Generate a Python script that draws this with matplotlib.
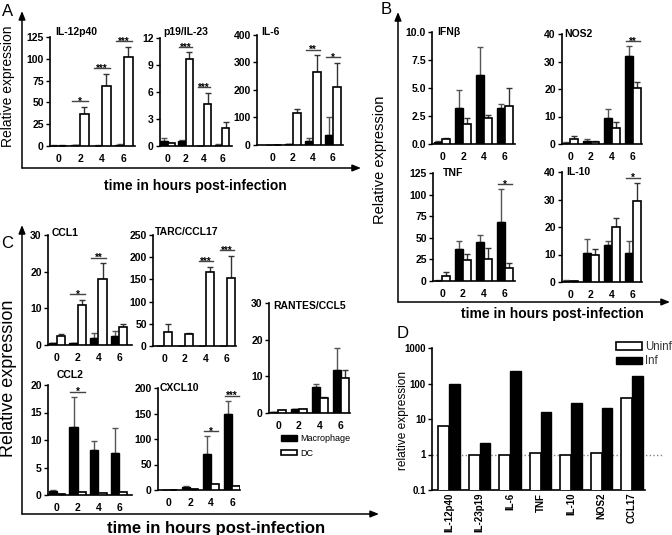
import matplotlib.pyplot as plt
import numpy as np
from matplotlib.patches import Patch

plt.rcParams['font.family'] = ['Liberation Sans', 'DejaVu Sans']

hours = ['0', '2', '4', '6']

# A: IL-12p40, p19/IL-23, IL-6  (macrophage = black, DC = white; upper error only)
il12_mac = [0.5, 1.0, 0.5, 1.5]
il12_mac_err = [0.3, 0.5, 0.3, 0.8]
il12_dc = [0.5, 37, 69, 102]
il12_dc_err = [0.3, 8, 14, 12]
il12_sig = ['', '*', '***', '***']

p19_mac = [0.6, 0.5, 0.05, 0.15]
p19_mac_err = [0.3, 0.15, 0.0, 0.05]
p19_dc = [0.3, 9.7, 4.7, 2.0]
p19_dc_err = [0.05, 0.7, 1.2, 0.7]
p19_sig = ['', '***', '***', '']

il6_mac = [0.5, 2, 16, 38]
il6_mac_err = [0, 0, 11, 62]
il6_dc = [0.5, 117, 264, 212]
il6_dc_err = [0, 13, 63, 87]
il6_sig = ['', '', '**', '*']

# B: IFNb, NOS2, TNF, IL-10
ifnb_mac = [0.2, 3.2, 6.2, 3.2]
ifnb_mac_err = [0.05, 1.6, 2.5, 0.4]
ifnb_dc = [0.45, 1.8, 2.3, 3.4]
ifnb_dc_err = [0.1, 0.5, 0.3, 1.6]

nos2_mac = [0.5, 1.2, 9.5, 32]
nos2_mac_err = [0.2, 0.8, 3.3, 3.5]
nos2_dc = [2.0, 0.9, 6.0, 20.5]
nos2_dc_err = [0.8, 0.3, 2.0, 2.2]
nos2_sig = ['', '', '', '**']

tnf_mac = [0.5, 37, 45, 68]
tnf_mac_err = [0.3, 9, 8, 38]
tnf_dc = [6, 24, 26, 15]
tnf_dc_err = [4, 7, 12, 6]
tnf_sig = ['', '', '', '*']

il10_mac = [0.5, 10.5, 13.3, 10.5]
il10_mac_err = [0.1, 5.2, 1.7, 4.5]
il10_dc = [0.2, 9.8, 20, 29.5]
il10_dc_err = [0.05, 2.2, 3.2, 6.5]
il10_sig = ['', '', '', '*']

# C: chemokines
ccl1_mac = [0.5, 0.5, 2.0, 2.5]
ccl1_mac_err = [0.1, 0.1, 1.4, 1.4]
ccl1_dc = [2.5, 11, 18, 4.8]
ccl1_dc_err = [0.6, 1.4, 4.3, 1.0]
ccl1_sig = ['', '*', '**', '']

tarc_mac = [0, 0, 0.5, 1]
tarc_mac_err = [0, 0, 0, 0]
tarc_dc = [32, 27, 167, 153]
tarc_dc_err = [18, 3, 11, 50]
tarc_sig = ['', '', '***', '***']

ccl2_mac = [0.8, 12.4, 8.2, 7.6]
ccl2_mac_err = [0.1, 5.4, 1.6, 4.5]
ccl2_dc = [0.2, 0.5, 0.4, 0.6]
ccl2_dc_err = [0, 0, 0, 0]
ccl2_sig = ['', '*', '', '']

cxcl10_mac = [0.5, 5, 70, 150]
cxcl10_mac_err = [0, 2, 35, 25]
cxcl10_dc = [0.5, 2, 11, 8]
cxcl10_dc_err = [0, 0, 0, 0]
cxcl10_sig = ['', '', '*', '***']

ccl5_mac = [0.3, 1.1, 7.2, 11.7]
ccl5_mac_err = [0, 0.1, 0.8, 6.1]
ccl5_dc = [0.7, 1.1, 4.0, 9.6]
ccl5_dc_err = [0.1, 0.1, 0.3, 2.2]

# D: relative expression, log scale
d_genes = ['IL-12p40', 'IL-23p19', 'IL-6', 'TNF', 'IL-10', 'NOS2', 'CCL17']
d_uninf = [6.5, 1.0, 1.0, 1.12, 1.0, 1.08, 38]
d_inf = [100, 2.08, 225, 15.5, 29, 21, 158]

W, H = 672, 535
fig = plt.figure(figsize=(W / 100, H / 100), dpi=100)

# overlay in pixel coords for frames and labels
deco = fig.add_axes([0, 0, 1, 1])
deco.set_xlim(0, W)
deco.set_ylim(H, 0)
deco.axis('off')


def arrow(x0, y0, x1, y1):
    deco.annotate('', xy=(x1, y1), xytext=(x0, y0),
                  arrowprops=dict(arrowstyle='-|>,head_length=0.5,head_width=0.2',
                                  lw=1.1, color='black', shrinkA=0, shrinkB=0))


def px_axes(x0, y0, x1, y1):
    return fig.add_axes([x0 / W, 1 - y1 / H, (x1 - x0) / W, (y1 - y0) / H])


def bar_panel(box, c0, step, ymax, yticks, ylabels, title, tpos,
              mac, mac_err, dc, dc_err, sig=None):
    x0, y0, x1, y1 = box
    ax = px_axes(x0, y0, x1, y1)
    ax.patch.set_alpha(0)
    x = np.arange(len(hours))
    w = 0.4
    z = np.zeros(len(hours))
    ax.errorbar(x - w / 2, mac, yerr=[z, mac_err], fmt='none', ecolor='#555555',
                elinewidth=1, capsize=2, capthick=1, zorder=2)
    ax.errorbar(x + w / 2, dc, yerr=[z, dc_err], fmt='none', ecolor='#333333',
                elinewidth=1, capsize=2, capthick=1, zorder=2)
    ax.bar(x - w / 2, mac, w, color='black', edgecolor='black', linewidth=1, zorder=3)
    ax.bar(x + w / 2, dc, w, color='white', edgecolor='black', linewidth=1.2, zorder=3)
    if sig:
        for i, s in enumerate(sig):
            if s:
                top = max(mac[i] + mac_err[i], dc[i] + dc_err[i]) + 0.05 * ymax
                ax.plot([i - 0.35, i + 0.35], [top, top], color='#444444', lw=1,
                        clip_on=False, zorder=4)
                ax.annotate(s, (i, top), xytext=(0, -2.5), textcoords='offset points',
                            ha='center', va='baseline', fontsize=7, fontweight='bold',
                            annotation_clip=False)
    ax.set_xlim((x0 - c0) / step, (x1 - c0) / step)
    ax.set_ylim(0, ymax)
    ax.set_yticks(yticks)
    ax.set_yticklabels(ylabels)
    ax.set_xticks(x)
    ax.set_xticklabels(hours)
    for sp in ['top', 'right']:
        ax.spines[sp].set_visible(False)
    for sp in ['left', 'bottom']:
        ax.spines[sp].set_linewidth(1.2)
    ax.tick_params(axis='y', direction='out', length=3, width=1, pad=1.5, labelsize=7.5)
    ax.tick_params(axis='x', length=0, pad=6, labelsize=7.5)
    for t in ax.get_xticklabels() + ax.get_yticklabels():
        t.set_fontweight('bold')
    fig.text(tpos[0] / W, 1 - tpos[1] / H, title, ha='left', va='center',
             fontsize=7.5, fontweight='bold')
    return ax


def ticks(step, n):
    return [step * k for k in range(n)]


# panel A
bar_panel((50, 37, 135, 146), 58, 22, 125, ticks(25, 6), [str(v) for v in ticks(25, 6)],
          'IL-12p40', (55, 32), il12_mac, il12_mac_err, il12_dc, il12_dc_err, il12_sig)
bar_panel((160, 38, 232, 146), 167.5, 18.2, 12, ticks(3, 5), [str(v) for v in ticks(3, 5)],
          'p19/IL-23', (163, 32), p19_mac, p19_mac_err, p19_dc, p19_dc_err, p19_sig)
bar_panel((257, 35, 343, 145), 273, 20, 400, ticks(100, 5), [str(v) for v in ticks(100, 5)],
          'IL-6', (261, 32), il6_mac, il6_mac_err, il6_dc, il6_dc_err, il6_sig)

# panel B
bar_panel((432, 32, 515, 144), 442, 21, 10, ticks(2.5, 5), ['%.1f' % v for v in ticks(2.5, 5)],
          'IFNβ', (437, 32), ifnb_mac, ifnb_mac_err, ifnb_dc, ifnb_dc_err)
bar_panel((562, 34, 642, 144), 570, 21, 40, ticks(10, 5), [str(v) for v in ticks(10, 5)],
          'NOS2', (564, 34), nos2_mac, nos2_mac_err, nos2_dc, nos2_dc_err, nos2_sig)
bar_panel((433, 173, 515, 281), 442, 21, 125, ticks(25, 6), [str(v) for v in ticks(25, 6)],
          'TNF', (443, 173), tnf_mac, tnf_mac_err, tnf_dc, tnf_dc_err, tnf_sig)
bar_panel((562, 172, 642, 282), 570, 21, 40, ticks(10, 5), [str(v) for v in ticks(10, 5)],
          'IL-10', (566, 172), il10_mac, il10_mac_err, il10_dc, il10_dc_err, il10_sig)

# panel C
bar_panel((48, 235, 132, 345), 57, 20.7, 30, ticks(10, 4), [str(v) for v in ticks(10, 4)],
          'CCL1', (52, 233), ccl1_mac, ccl1_mac_err, ccl1_dc, ccl1_dc_err, ccl1_sig)
bar_panel((153, 235, 236, 346), 164, 21, 250, ticks(50, 6), [str(v) for v in ticks(50, 6)],
          'TARC/CCL17', (155, 232), tarc_mac, tarc_mac_err, tarc_dc, tarc_dc_err, tarc_sig)
bar_panel((48, 385, 132, 495), 57, 20.7, 20, ticks(5, 5), [str(v) for v in ticks(5, 5)],
          'CCL2', (57, 375), ccl2_mac, ccl2_mac_err, ccl2_dc, ccl2_dc_err, ccl2_sig)
bar_panel((158, 388, 240, 490), 169, 21, 200, ticks(50, 5), [str(v) for v in ticks(50, 5)],
          'CXCL10', (160, 388), cxcl10_mac, cxcl10_mac_err, cxcl10_dc, cxcl10_dc_err, cxcl10_sig)
bar_panel((269, 303, 350, 413), 278, 21, 30, ticks(10, 4), [str(v) for v in ticks(10, 4)],
          'RANTES/CCL5', (273, 306), ccl5_mac, ccl5_mac_err, ccl5_dc, ccl5_dc_err)

fig.legend(handles=[Patch(facecolor='black', edgecolor='black', label='Macrophage'),
                    Patch(facecolor='white', edgecolor='black', lw=1.2, label='DC')],
           loc='upper left', bbox_to_anchor=(281 / W, 1 - 434 / H), frameon=False,
           fontsize=6.5, handlelength=1.8, handleheight=0.55, labelspacing=0.65,
           handletextpad=0.3, borderaxespad=0, borderpad=0)

# panel D
c0, step = 449, 30.5
axd = px_axes(432, 348, 663, 490)
axd.patch.set_alpha(0)
xd = np.arange(len(d_genes))
wd = 0.36
axd.axhline(1, color='#888888', ls=':', lw=1, zorder=1)
axd.bar(xd - wd / 2, d_uninf, wd, color='white', edgecolor='black', linewidth=1.2, zorder=3)
axd.bar(xd + wd / 2, d_inf, wd, color='black', edgecolor='black', linewidth=1, zorder=3)
axd.set_yscale('log')
axd.set_ylim(0.1, 1000)
axd.set_yticks([0.1, 1, 10, 100, 1000])
axd.set_yticklabels(['0.1', '1', '10', '100', '1000'])
axd.minorticks_off()
xlo, xhi = (432 - c0) / step, (663 - c0) / step
axd.set_xlim(xlo, xhi)
axd.spines['bottom'].set_bounds(xlo, (645 - c0) / step)
axd.set_xticks(xd)
axd.set_xticklabels(d_genes, rotation=90)
for sp in ['top', 'right']:
    axd.spines[sp].set_visible(False)
for sp in ['left', 'bottom']:
    axd.spines[sp].set_linewidth(1.2)
axd.tick_params(axis='y', direction='out', length=3, width=1, pad=1.5, labelsize=7)
axd.tick_params(axis='x', length=0, pad=2, labelsize=7)
for t in axd.get_xticklabels() + axd.get_yticklabels():
    t.set_fontweight('bold')
leg = fig.legend(handles=[Patch(facecolor='white', edgecolor='black', lw=1.2, label='Uninf'),
                          Patch(facecolor='black', edgecolor='black', label='Inf')],
                 loc='upper right', bbox_to_anchor=(1.0, 1 - 341 / H), frameon=False,
                 fontsize=8.3, handlelength=2.2, handleheight=0.6, labelspacing=0.2,
                 handletextpad=0.3, borderaxespad=0, borderpad=0)
for t in leg.get_texts():
    t.set_color('#333333')

# frames with arrows
arrow(22, 168, 22, 11)
arrow(22, 168, 361, 168)
arrow(398, 302, 398, 12)
arrow(398, 302, 670, 302)
arrow(22, 514, 22, 225)
arrow(22, 514, 379, 514)

# panel letters and axis titles
for letter, (lx, ly) in {'A': (8, 12), 'B': (386, 9), 'C': (7, 243), 'D': (403, 333)}.items():
    deco.text(lx, ly, letter, fontsize=12, ha='center', va='center')
deco.text(8, 86, 'Relative expression', rotation=90, fontsize=10, ha='center', va='center')
deco.text(380, 160, 'Relative expression', rotation=90, fontsize=10.5, ha='center', va='center')
deco.text(9, 378, 'Relative expression', rotation=90, fontsize=13, ha='center', va='center')
deco.text(403, 420, 'relative expression', rotation=90, fontsize=8.6, ha='center', va='center')
deco.text(195, 186, 'time in hours post-infection', fontsize=10, fontweight='bold',
          ha='center', va='center')
deco.text(552, 314, 'time in hours post-infection', fontsize=10, fontweight='bold',
          ha='center', va='center')
deco.text(216, 528, 'time in hours post-infection', fontsize=12, fontweight='bold',
          ha='center', va='center')

fig.savefig('out.png', dpi=100)
